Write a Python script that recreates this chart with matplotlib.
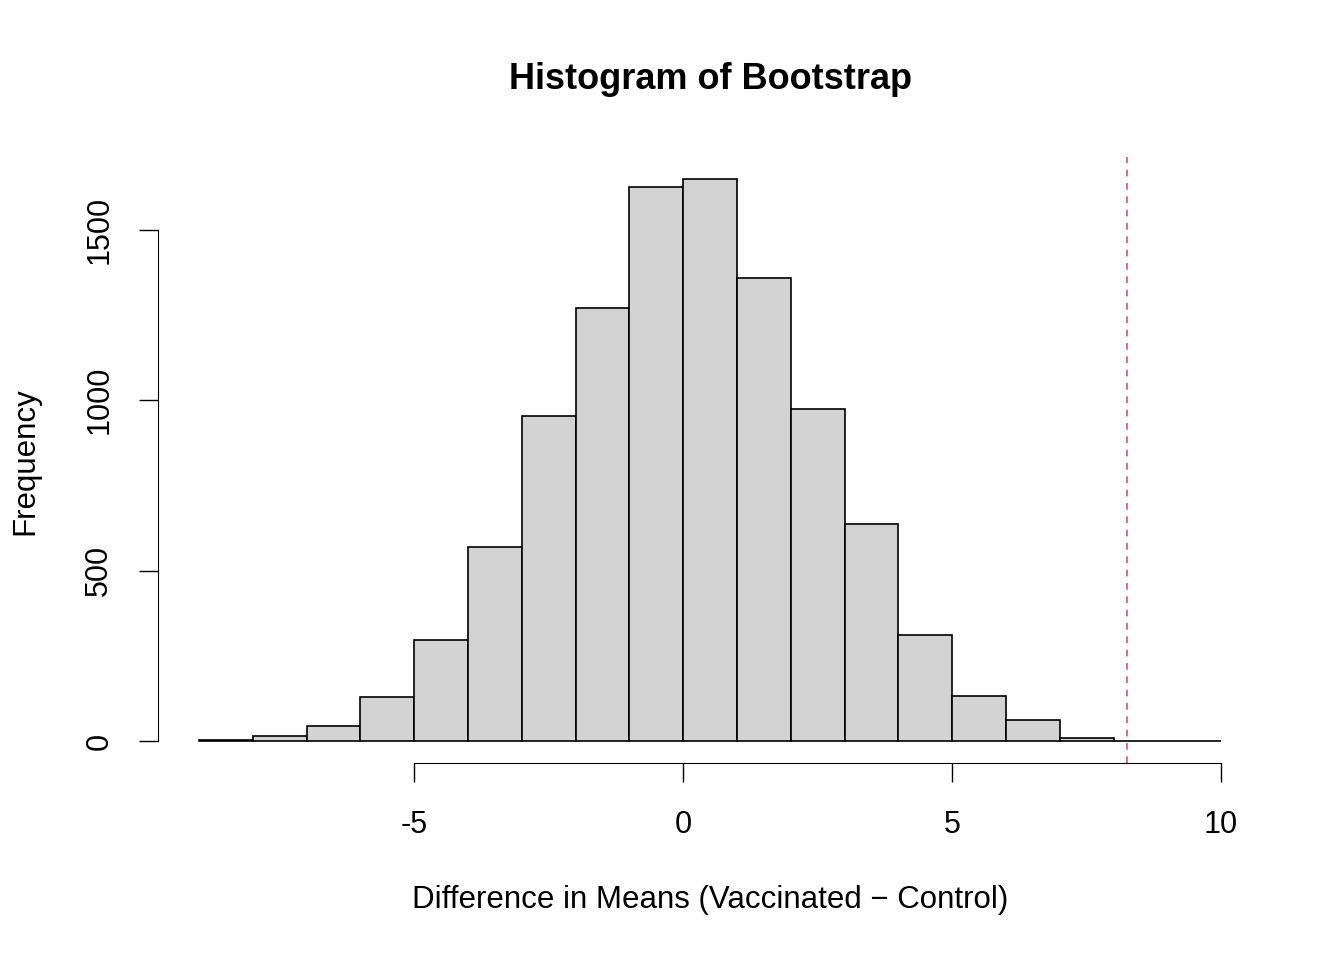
import matplotlib
matplotlib.use("Agg")
import matplotlib.pyplot as plt
import numpy as np

plt.rcParams['font.family'] = ['Liberation Sans', 'DejaVu Sans']

# Histogram bins (width 1) and counts
bin_edges = list(range(-9, 11))
counts = [3, 15, 44, 129, 296, 568, 952, 1269, 1626, 1647,
          1357, 973, 636, 311, 132, 62, 9, 1, 0]
observed_diff = 8.25

fig = plt.figure(figsize=(13.44, 9.6), dpi=100)
ax = fig.add_axes([0.1176, 0.2047, 0.939 - 0.1176, 0.8365 - 0.2047])

left = np.array(bin_edges[:-1])
ax.bar(left, counts, width=1, align='edge', color='#d3d3d3',
       edgecolor='black', linewidth=1.2)
ax.axvline(observed_diff, color='#df536b', linestyle=(0, (4, 4)), linewidth=1.2)

ax.set_xlim(-9.76, 10.76)
ax.set_ylim(-66, 1713)

for s in ['top', 'right']:
    ax.spines[s].set_visible(False)
ax.spines['bottom'].set_bounds(-5, 10)
ax.spines['left'].set_bounds(0, 1500)
ax.set_xticks([-5, 0, 5, 10])
ax.set_xticklabels(['-5', '0', '5', '10'])
ax.set_yticks([0, 500, 1000, 1500])
ax.set_yticklabels(['0', '500', '1000', '1500'], rotation=90, va='center')
ax.tick_params(axis='both', length=13.5, width=1, labelsize=22)
ax.tick_params(axis='x', pad=20)
ax.tick_params(axis='y', pad=18)

fig.text(0.5285, 0.917, 'Histogram of Bootstrap', ha='center', va='center',
         fontsize=26, fontweight='bold')
fig.text(0.5285, 0.062, 'Difference in Means (Vaccinated \u2212 Control)',
         ha='center', va='center', fontsize=22.5)
fig.text(0.019, 0.52, 'Frequency', ha='center', va='center',
         rotation=90, fontsize=22.5)

fig.savefig('out.png', dpi=100)
